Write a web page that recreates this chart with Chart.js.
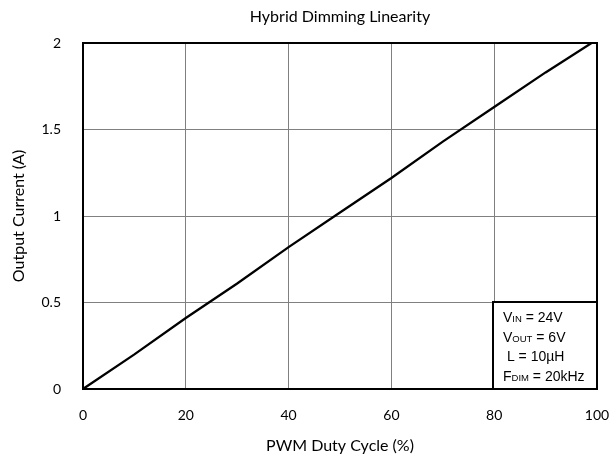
<!DOCTYPE html>
<html>
<head>
<meta charset="utf-8">
<script src="https://cdn.jsdelivr.net/npm/chart.js@4.4.1/dist/chart.umd.min.js"></script>
<style>
    html, body { margin: 0; padding: 0; background: #fff; }
</style>
</head>
<body>
<canvas id="chart" width="615" height="455"></canvas>
<script>
// PWM duty cycle (%) and measured output current (A)
const dutyCycle = [0, 10, 20, 30, 40, 50, 60, 70, 80, 90, 100];
const outputCurrent = [0, 0.2, 0.41, 0.61, 0.82, 1.02, 1.22, 1.43, 1.63, 1.83, 2.02];
const xTicks = [0, 20, 40, 60, 80, 100];
const yTicks = [0, 0.5, 1, 1.5, 2];

const chartTitle = 'Hybrid Dimming Linearity';

// test conditions: [main, subscript, rest]
const conditions = [
    ['V', 'IN', ' = 24V'],
    ['V', 'OUT', ' = 6V'],
    [' L = 10\u00b5H', '', ''],
    ['F', 'DIM', ' = 20kHz']
];

const labelFont = 'Lato';

// thick frame round the plot area, title centred over it
const frameBorder = {
    id: 'frameBorder',
    afterDatasetsDraw(chart) {
        const { ctx, chartArea: a } = chart;
        ctx.save();
        ctx.strokeStyle = '#000';
        ctx.lineWidth = 2;
        ctx.strokeRect(a.left, a.top, a.right - a.left, a.bottom - a.top);

        ctx.fillStyle = '#000';
        ctx.font = `16px ${labelFont}`;
        ctx.textAlign = 'center';
        ctx.textBaseline = 'middle';
        ctx.fillText(chartTitle, (a.left + a.right) / 2, 17);
        ctx.restore();
    }
};

// conditions box in the bottom right corner
const conditionsBox = {
    id: 'conditionsBox',
    afterDraw(chart) {
        const { ctx, chartArea: a } = chart;
        const w = 104, h = 87;
        const x = a.right - w, y = a.bottom - h;
        ctx.save();
        ctx.fillStyle = '#fff';
        ctx.fillRect(x, y, w, h);
        ctx.strokeStyle = '#000';
        ctx.lineWidth = 2;
        ctx.strokeRect(x, y, w, h);

        ctx.fillStyle = '#000';
        ctx.textBaseline = 'alphabetic';
        conditions.forEach((row, i) => {
            let tx = x + 10;
            const ty = y + 20 + i * 19.5;
            ctx.font = '14px "Liberation Sans", Arial, sans-serif';
            ctx.fillText(row[0], tx, ty);
            tx += ctx.measureText(row[0]).width;
            if (row[1]) {
                ctx.font = '9.5px "Liberation Sans", Arial, sans-serif';
                ctx.fillText(row[1], tx, ty);
                tx += ctx.measureText(row[1]).width;
            }
            ctx.font = '14px "Liberation Sans", Arial, sans-serif';
            ctx.fillText(row[2], tx, ty);
        });
        ctx.restore();
    }
};

const ctx = document.getElementById('chart').getContext('2d');
new Chart(ctx, {
    type: 'line',
    data: {
        datasets: [{
            label: 'Output Current',
            data: dutyCycle.map((d, i) => ({ x: d, y: outputCurrent[i] })),
            borderColor: '#000',
            borderWidth: 2.3,
            pointRadius: 0,
            tension: 0,
            fill: false
        }]
    },
    options: {
        responsive: false,
        animation: false,
        layout: { padding: { top: 43, right: 18, bottom: 0, left: 0 } },
        plugins: {
            legend: { display: false },
            tooltip: { enabled: false },
            title: { display: false }
        },
        scales: {
            x: {
                type: 'linear',
                min: 0,
                max: 100,
                afterBuildTicks: scale => { scale.ticks = xTicks.map(v => ({ value: v })); },
                afterFit: scale => {
                    scale.height = 66;
                    scale.paddingLeft = 0;
                    scale.paddingRight = 0;
                },
                grid: { color: '#808080', lineWidth: 1, drawTicks: false },
                border: { display: false },
                ticks: {
                    color: '#000',
                    padding: 18,
                    maxRotation: 0,
                    font: { family: labelFont, size: 14 },
                    callback: v => `${v}`
                },
                title: {
                    display: true,
                    text: 'PWM Duty Cycle (%)',
                    color: '#000',
                    font: { family: labelFont, size: 16 },
                    padding: { top: 0, bottom: 0 }
                }
            },
            y: {
                min: 0,
                max: 2,
                afterBuildTicks: scale => { scale.ticks = yTicks.map(v => ({ value: v })); },
                afterFit: scale => {
                    scale.width = 83;
                    scale.paddingTop = 0;
                    scale.paddingBottom = 0;
                },
                grid: { color: '#808080', lineWidth: 1, drawTicks: false },
                border: { display: false },
                ticks: {
                    color: '#000',
                    padding: 22,
                    font: { family: labelFont, size: 14 },
                    callback: v => `${v}`
                },
                title: {
                    display: true,
                    text: 'Output Current (A)',
                    color: '#000',
                    font: { family: labelFont, size: 16 },
                    padding: { top: 9, bottom: 0 }
                }
            }
        }
    },
    plugins: [frameBorder, conditionsBox]
});
</script>
</body>
</html>
